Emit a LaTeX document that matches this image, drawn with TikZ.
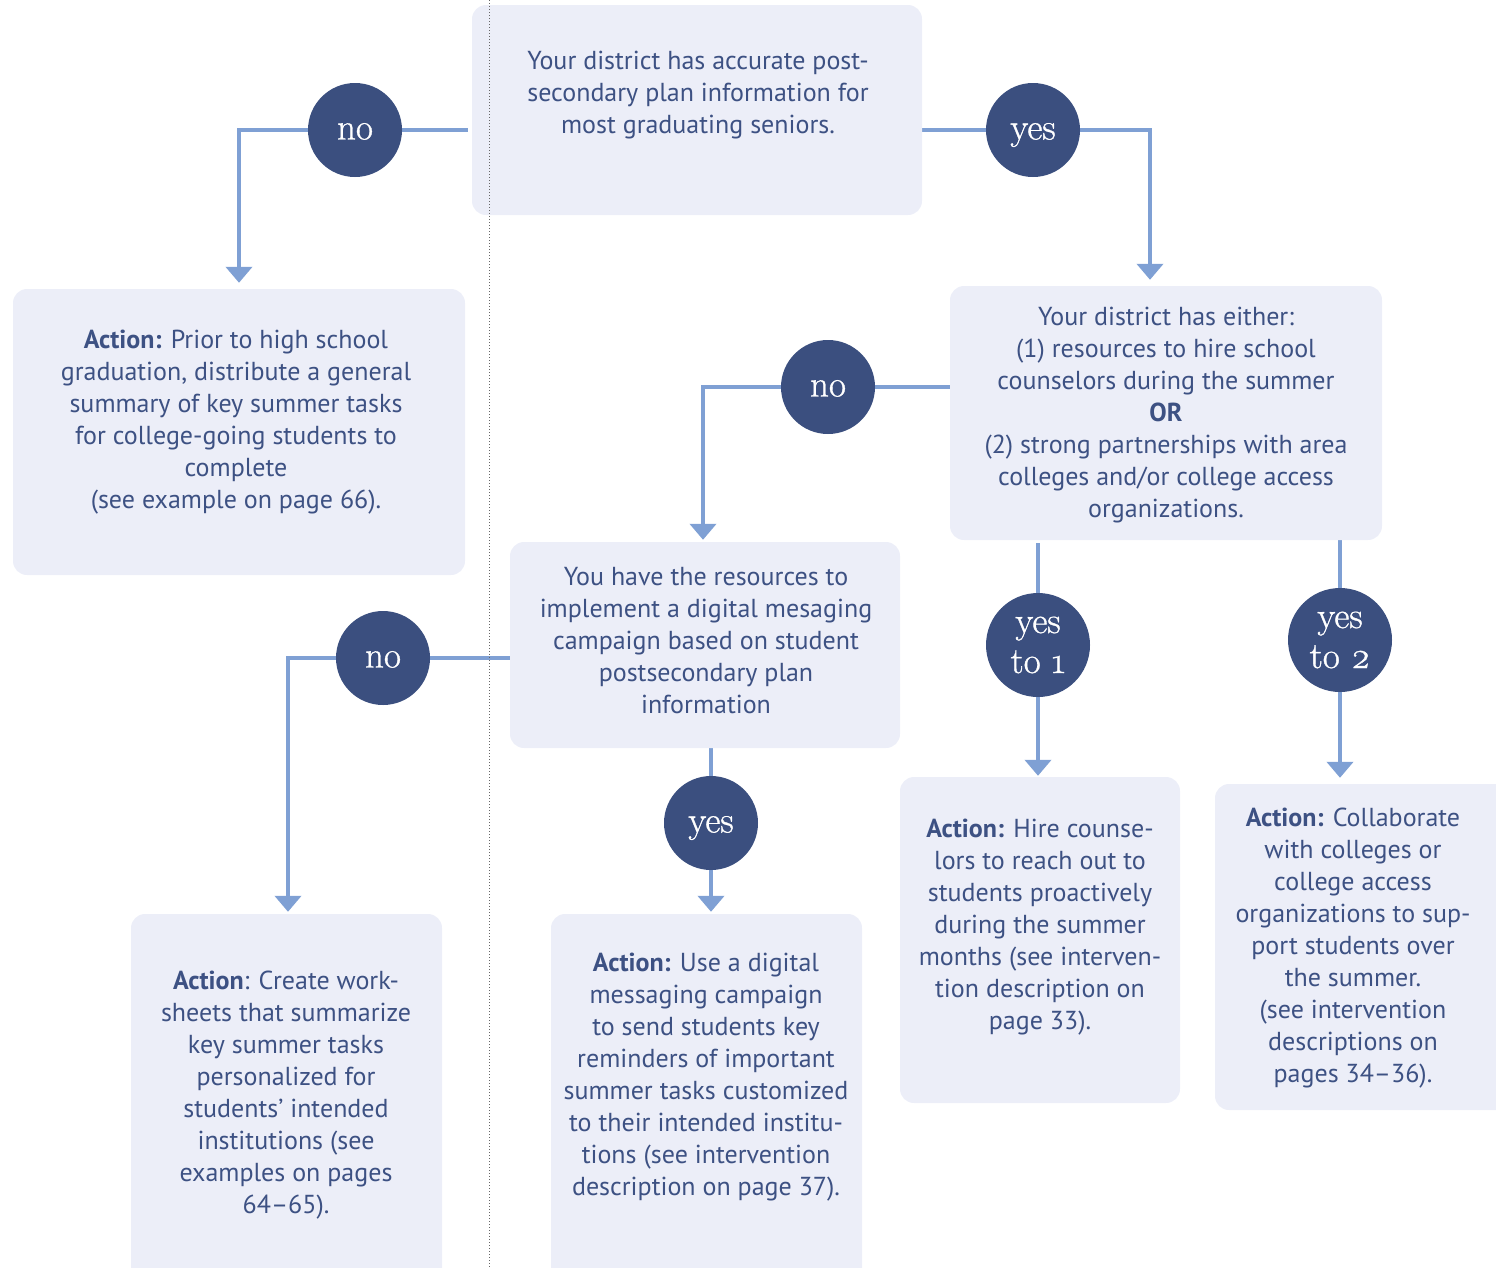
\documentclass[tikz,border=0pt]{standalone}
\usepackage{fontspec}
\setmainfont{PT Sans}
\usetikzlibrary{arrows.meta,backgrounds}

\definecolor{boxfill}{HTML}{ECEEF8}
\definecolor{navy}{HTML}{3B4F7F}
\definecolor{linkblue}{HTML}{7FA0D4}
\definecolor{textblue}{HTML}{3D5183}

\newfontfamily\dotfont{Latin Modern Roman}[FakeBold=0.9]

\tikzset{
  box/.style={rectangle, rounded corners=14pt, fill=boxfill, inner sep=0pt},
  txt/.style={align=center, text=textblue, inner sep=0pt,
               font=\fontsize{26}{32}\selectfont},
  dot/.style={circle, fill=navy, text=white, minimum size=94pt, inner sep=0pt,
              align=center, font=\dotfont\fontsize{37}{40}\selectfont},
  word/.style={dot, text height=19pt, text depth=0pt},
  link/.style={draw=linkblue, line width=4pt},
  flow/.style={link, -{Triangle[width=26pt,length=16pt]}},
}

\begin{document}
\begin{tikzpicture}[x=1pt, y=-1pt]
  \useasboundingbox (0,0) rectangle (1496,1267);
  \clip (0,0) rectangle (1496,1267);

  % Define nodes
  \node[box, minimum width=450pt, minimum height=210pt] (q1) at (697,110)   {};
  \node[box, minimum width=452pt, minimum height=286pt] (a1) at (239,432)   {};
  \node[box, minimum width=432pt, minimum height=254pt] (q2) at (1166,413)  {};
  \node[box, minimum width=390pt, minimum height=206pt] (q3) at (705,645)   {};
  \node[box, minimum width=311pt, minimum height=380pt] (a2) at (286.5,1104) {};
  \node[box, minimum width=311pt, minimum height=380pt] (a3) at (706.5,1104) {};
  \node[box, minimum width=280pt, minimum height=326pt] (a4) at (1040,940)  {};
  \node[box, minimum width=300pt, minimum height=326pt] (a5) at (1365,947)  {};

  \node[txt] (q1text) at (698,95)  {Your district has accurate post-\\secondary plan information for\\most graduating seniors.};
  \node[txt] (a1text) at (236,422) {\textbf{Action:} Prior to high school\\graduation, distribute a general\\summary of key summer tasks\\for college-going students to\\complete\\(see example on page 66).};
  \node[txt] (q2text) at (1166,415) {Your district has either:\\(1) resources to hire school\\counselors during the summer\\\textbf{OR}\\(2) strong partnerships with area\\colleges and/or college access\\organizations.};
  \node[txt] (q3text) at (706,641) {You have the resources to\\implement a digital mesaging\\campaign based on student\\postsecondary plan\\information};
  \node[txt] (a2text) at (286,1095) {\textbf{Action}: Create work-\\sheets that summarize\\key summer tasks\\personalized for\\students’ intended\\institutions (see\\examples on pages\\64–65).};
  \node[txt] (a3text) at (706,1077) {\textbf{Action:} Use a digital\\messaging campaign\\to send students key\\reminders of important\\summer tasks customized\\to their intended institu-\\tions (see intervention\\description on page 37).};
  \node[txt] (a4text) at (1040,927) {\textbf{Action:} Hire counse-\\lors to reach out to\\students proactively\\during the summer\\months (see interven-\\tion description on\\page 33).};
  \node[txt] (a5text) at (1353,948) {\textbf{Action:} Collaborate\\with colleges or\\college access\\organizations to sup-\\port students over\\the summer.\\(see intervention\\descriptions on\\pages 34–36).};

  \node[word]                    (c1) at (355,130)  {no};
  \node[word]                    (c2) at (1033,130) {yes};
  \node[word]                    (c3) at (828,387)  {no};
  \node[word]                    (c4) at (383,658)  {no};
  \node[word]                    (c5) at (711,823)  {yes};
  \node[dot, minimum size=104pt] (c6) at (1038,645) {yes\\to \oldstylenums{1}};
  \node[dot, minimum size=104pt] (c7) at (1340,640) {yes\\to \oldstylenums{2}};

  % Connect the nodes
  \begin{scope}[on background layer]
    \draw[flow, shorten >=6pt] ([xshift=-4pt]q1.west |- c1) -- (c1) -| (a1.north);
    \draw[flow, shorten >=6pt] ([xshift=-2pt]q1.east |- c2) -- (c2) -| ([xshift=-16pt]q2.north);
    \draw[flow, shorten >=2pt] (q2.west |- c3) -- (c3) -| ([xshift=-2pt]q3.north);
    \draw[flow, shorten >=2pt] (q3.west |- c4) -- (c4) -| ([xshift=1.5pt]a2.north);
    \draw[flow, shorten >=2pt] ([yshift=2pt]c5 |- q3.south) -- (c5) -- (c5 |- a3.north);
    \draw[flow, shorten >=1pt] ([yshift=-3pt]c6 |- q2.south) -- (c6) -- (c6 |- a4.north);
    \draw[flow, shorten >=6pt] ([yshift=2pt]c7 |- q2.south) -- (c7) -- (c7 |- a5.north);
  \end{scope}

  \draw[gray!80!black, line width=1pt, dotted] (489,0) -- (489,1267);
\end{tikzpicture}
\end{document}
